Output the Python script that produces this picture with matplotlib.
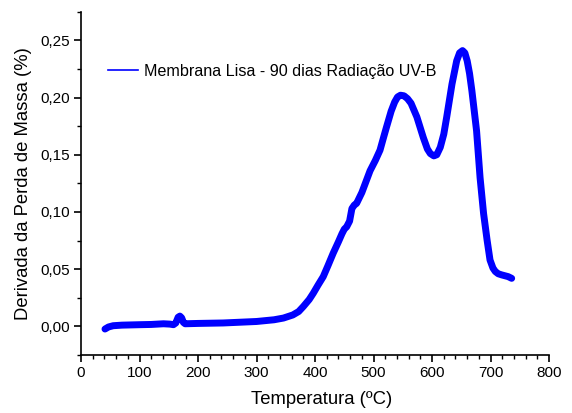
import matplotlib
matplotlib.use("Agg")
import matplotlib.pyplot as plt
from matplotlib.lines import Line2D
from matplotlib.ticker import MultipleLocator, FuncFormatter

plt.rcParams['font.family'] = ['Liberation Sans', 'DejaVu Sans']

# DTG curve: temperature (ºC) vs derivative of mass loss (%)
temperature = [41, 47, 55, 70, 101, 120, 141, 152, 158, 162, 166, 169, 172, 175, 178,
               200, 243, 300, 330, 346, 362, 372, 380, 390, 397, 405, 414, 422, 431,
               440, 446, 450, 454, 459, 463, 467, 471, 480, 494, 503, 511, 517, 522,
               530, 536, 541, 546, 552, 558, 564, 574, 585, 592, 597, 603, 608, 614,
               620, 625, 634, 642, 647, 652, 656, 660, 664, 668, 676, 682, 688, 694,
               699, 704, 708, 713, 719, 730, 736]
dtg = [-0.0023, -0.0005, 0.0006, 0.0011, 0.0015, 0.0017, 0.0023, 0.0020, 0.0015,
       0.0030, 0.0080, 0.0090, 0.0075, 0.0035, 0.0023, 0.0026, 0.0030, 0.0043,
       0.0058, 0.0073, 0.0100, 0.0130, 0.0174, 0.0235, 0.0290, 0.0360, 0.0435,
       0.0530, 0.0640, 0.0740, 0.0810, 0.0850, 0.0870, 0.0920, 0.1030, 0.1060,
       0.1075, 0.1170, 0.1360, 0.1450, 0.1540, 0.1650, 0.1740, 0.1880, 0.1960,
       0.2005, 0.2020, 0.2015, 0.1990, 0.1950, 0.1830, 0.1650, 0.1550, 0.1510,
       0.1490, 0.1500, 0.1565, 0.1680, 0.1830, 0.2117, 0.2320, 0.2390, 0.2410,
       0.2390, 0.2320, 0.2210, 0.2060, 0.1710, 0.1300, 0.0986, 0.0754, 0.0580,
       0.0510, 0.0480, 0.0460, 0.0450, 0.0435, 0.0420]

series_label = "Membrana Lisa - 90 dias Radiação UV-B"
x_label = "Temperatura (ºC)"
y_label = "Derivada da Perda de Massa (%)"

fig = plt.figure(figsize=(5.72, 4.13), dpi=100)
ax = fig.add_axes([0.1416, 0.1404, 0.8184, 0.8313])

ax.plot(temperature, dtg, color='#0000ff', lw=5.0, solid_capstyle='round',
        solid_joinstyle='round')

ax.set_xlim(0, 800)
ax.set_ylim(-0.025, 0.275)
ax.xaxis.set_major_locator(MultipleLocator(100))
ax.xaxis.set_minor_locator(MultipleLocator(20))
ax.yaxis.set_major_locator(MultipleLocator(0.05))
ax.yaxis.set_minor_locator(MultipleLocator(0.025))
ax.yaxis.set_major_formatter(FuncFormatter(lambda v, p: f"{v:.2f}".replace('.', ',')))

for side in ('top', 'right'):
    ax.spines[side].set_visible(False)
for side in ('left', 'bottom'):
    ax.spines[side].set_linewidth(1.2)
ax.tick_params(which='major', direction='out', length=5, width=1.2, labelsize=11,
               colors='black', pad=3)
ax.tick_params(which='minor', direction='out', length=3, width=1.0)

ax.set_xlabel(x_label, fontsize=13.3, labelpad=6)
ax.xaxis.set_label_coords(0.513, -0.105)
ax.set_ylabel(y_label, fontsize=13.3, labelpad=6)

handle = Line2D([], [], color='#0000ff', lw=1.2)
ax.legend([handle], [series_label], loc='center left', bbox_to_anchor=(0.0577, 0.827),
          frameon=False, fontsize=11.6, handlelength=1.86, handletextpad=0.37,
          borderpad=0, borderaxespad=0)

fig.savefig("out.png", dpi=100)
